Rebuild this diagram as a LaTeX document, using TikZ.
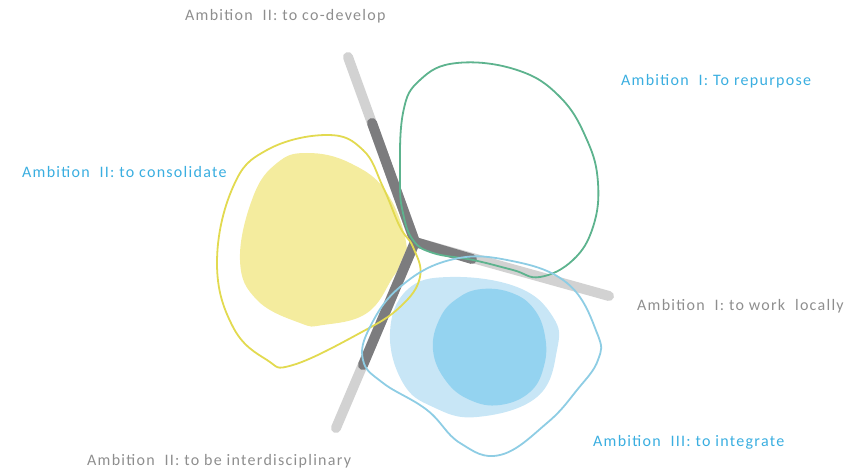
\documentclass[tikz,border=0pt]{standalone}
\usepackage{fontspec}
\setmainfont{Carlito}[LetterSpace=8]
\definecolor{lgray}{HTML}{D2D2D2}
\definecolor{dgray}{HTML}{7C7C7E}
\definecolor{txtgray}{HTML}{8E8E8E}
\definecolor{txtblue}{HTML}{3AAEE0}
\definecolor{greenline}{HTML}{5DB38E}
\definecolor{yline}{HTML}{E2DA50}
\definecolor{yfill}{HTML}{F4EC9E}
\definecolor{bline}{HTML}{8ECDE4}
\definecolor{bfill}{HTML}{C8E6F6}
\definecolor{bdark}{HTML}{94D3F0}
\begin{document}
\begin{tikzpicture}[x=1pt,y=-1pt,
  graytxt/.style={text=txtgray,font=\fontsize{16}{18}\selectfont,inner sep=0pt,anchor=base west},
  bluetxt/.style={text=txtblue,font=\fontsize{16}{18}\selectfont,inner sep=0pt,anchor=base west},
  armlight/.style={draw=lgray,line width=10pt,line cap=round,line join=round},
  armdark/.style={draw=dgray,line width=10pt,line cap=round,line join=round},
  outline/.style={line width=1.8pt}]
\useasboundingbox (0,0) rectangle (849,470);
% fills
\fill[yfill] plot[smooth cycle,tension=0.7] coordinates {(307,153) (277,163) (253,197) (240,260) (257,300) (300,323) (323,325) (367,313) (393,277) (407,250) (387,193) (350,163)};
\fill[bfill] plot[smooth cycle,tension=0.7] coordinates {(450,277) (517,287) (553,317) (557,350) (537,397) (477,417) (433,407) (403,383) (390,333) (407,290)};
\fill[bdark] plot[smooth cycle,tension=0.7] coordinates {(482,289) (512,293) (534,309) (545,336) (544,366) (530,392) (500,405) (470,400) (446,381) (433,350) (440,318) (458,298)};
% gray arms
\coordinate (J) at (415,242);
\coordinate (TopEnd) at (348,57);
\coordinate (RightEnd) at (609,296);
\coordinate (DownEnd) at (336,428);
\coordinate (TopDark) at (372,123);
\coordinate (RightDark) at (472,259);
\coordinate (DownDark) at (363,365);
\draw[armlight] (TopEnd) -- (J) -- (RightEnd);
\draw[armlight] (J) -- (DownEnd);
\draw[armdark] (TopDark) -- (J) -- (RightDark);
\draw[armdark] (J) -- (DownDark);
% outlines
\draw[outline,yline] plot[smooth cycle,tension=0.7] coordinates {(327,135) (267,150) (233,187) (217,263) (233,327) (267,360) (293,365) (360,333) (400,307) (420,277) (413,247) (400,227) (383,187) (363,150)};
\draw[outline,greenline] plot[smooth cycle,tension=0.7] coordinates {(457,63) (420,80) (403,113) (400,180) (403,213) (413,240) (433,253) (473,260) (513,270) (540,277) (573,260) (593,227) (598,183) (587,140) (560,97) (517,70)};
\draw[outline,bline] plot[smooth cycle,tension=0.7] coordinates {(370,327) (400,287) (450,260) (507,260) (567,283) (597,333) (598,360) (577,390) (547,423) (500,455) (460,443) (427,410) (383,383) (363,360)};
% labels
\node[graytxt] (codev) at (185,21) {Ambition\ \ II: to co-develop};
\node[bluetxt] (repurp) at (621,86) {Ambition\ \ I: To repurpose};
\node[bluetxt] (consol) at (22,178) {Ambition\ \ II: to consolidate};
\node[graytxt] (local) at (637,311) {Ambition\ \ I: to work\ \ locally};
\node[bluetxt] (integ) at (593,446) {Ambition\ \ III: to integrate};
\node[graytxt] (inter) at (87,465) {Ambition\ \ II: to be interdisciplinary};
\end{tikzpicture}
\end{document}
